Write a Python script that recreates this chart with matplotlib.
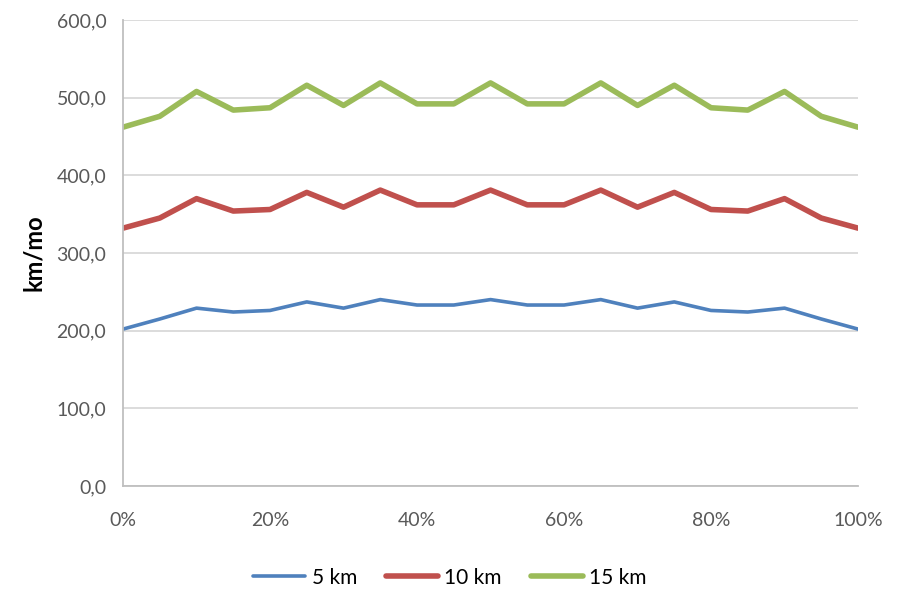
import matplotlib
matplotlib.use("Agg")
import matplotlib.pyplot as plt
from matplotlib.ticker import FuncFormatter, MultipleLocator

plt.rcParams["font.family"] = ["Lato", "DejaVu Sans"]

# Share of trips (x axis, percent) and monthly distance per commute length
share_pct = [0, 5, 10, 15, 20, 25, 30, 35, 40, 45, 50,
             55, 60, 65, 70, 75, 80, 85, 90, 95, 100]
km_5 = [202, 215, 229, 224, 226, 237, 229, 240, 233, 233, 240,
        233, 233, 240, 229, 237, 226, 224, 229, 215, 202]
km_10 = [332, 345, 370, 354, 356, 378, 359, 381, 362, 362, 381,
         362, 362, 381, 359, 378, 356, 354, 370, 345, 332]
km_15 = [462, 476, 508, 484, 487, 516, 490, 519, 492, 492, 519,
         492, 492, 519, 490, 516, 487, 484, 508, 476, 462]
series_labels = ["5 km", "10 km", "15 km"]
y_label = "km/mo"

fig = plt.figure(figsize=(8.98, 5.90), dpi=100)
ax = fig.add_axes([0.137, 0.1763, 0.8185, 0.7898])

ax.plot(share_pct, km_5, color="#4F81BD", lw=2.6, solid_capstyle="round",
        solid_joinstyle="round", label=series_labels[0])
ax.plot(share_pct, km_10, color="#C0504D", lw=4.0, solid_capstyle="round",
        solid_joinstyle="round", label=series_labels[1])
ax.plot(share_pct, km_15, color="#9BBB59", lw=4.0, solid_capstyle="round",
        solid_joinstyle="round", label=series_labels[2])

ax.set_xlim(0, 100)
ax.set_ylim(0, 600)
ax.xaxis.set_major_locator(MultipleLocator(20))
ax.yaxis.set_major_locator(MultipleLocator(100))
ax.xaxis.set_major_formatter(FuncFormatter(lambda v, p: f"{v:.0f}%"))
ax.yaxis.set_major_formatter(FuncFormatter(lambda v, p: f"{v:.1f}".replace(".", ",")))

ax.grid(axis="y", color="#D9D9D9", lw=1.3)
ax.set_axisbelow(True)
for side in ("top", "right"):
    ax.spines[side].set_visible(False)
for side in ("left", "bottom"):
    ax.spines[side].set_color("#BFBFBF")
    ax.spines[side].set_linewidth(1.3)
ax.tick_params(length=0, labelsize=14, labelcolor="#595959")
ax.tick_params(axis="x", pad=19)
ax.tick_params(axis="y", pad=12)

ax.set_ylabel(y_label, fontsize=17, fontweight="bold", color="black", labelpad=8)

leg = ax.legend(loc="center", bbox_to_anchor=(0.445, -0.197), ncol=3,
                frameon=False, fontsize=15, handlelength=2.5,
                columnspacing=1.4, handletextpad=0.3)
for t in leg.get_texts():
    t.set_color("black")

fig.savefig("out.png", dpi=100, facecolor="white")
